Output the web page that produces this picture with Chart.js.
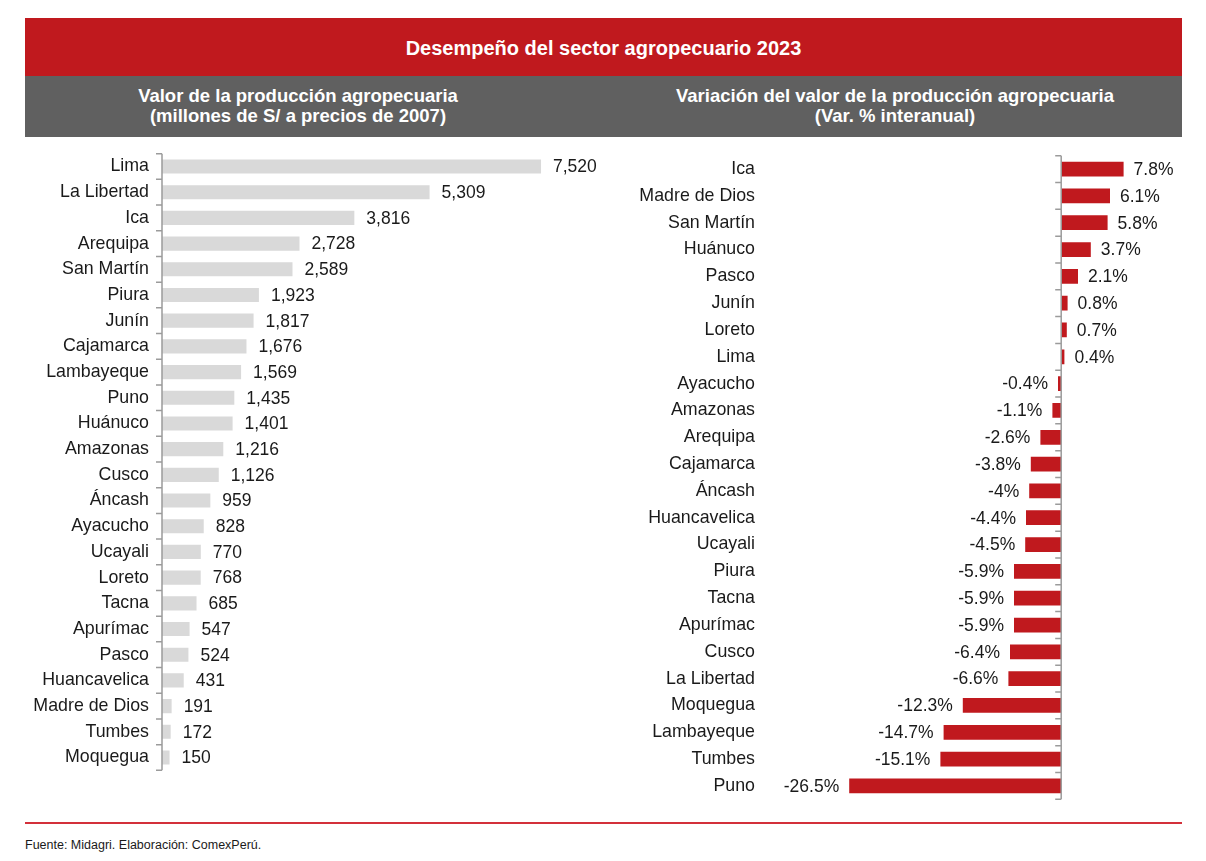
<!DOCTYPE html>
<html>
<head>
<meta charset="utf-8">
<script src="https://cdn.jsdelivr.net/npm/chart.js@4.4.1/dist/chart.umd.min.js"></script>
<style>
  body { margin: 0; background: #fff; font-family: "Liberation Sans", Arial, sans-serif; }
  .page { position: relative; width: 1206px; height: 861px; }
  .title { position: absolute; left: 25px; top: 18px; width: 1157px; height: 58px; background: #c0191e;
           color: #fff; font-weight: bold; font-size: 20px; text-align: center; line-height: 60px; }
  .band { position: absolute; left: 25px; top: 76px; width: 1157px; height: 61px; background: #606060; }
  .sub { position: absolute; top: 86px; color: #fff; font-weight: bold; font-size: 18.5px; line-height: 20px; text-align: center; }
  canvas { position: absolute; }
  .rule { position: absolute; left: 25px; top: 822px; width: 1157px; height: 2px; background: #d3303a; }
  .src { position: absolute; left: 25px; top: 838px; font-size: 12.5px; color: #1a1a1a; }
</style>
</head>
<body>
<div class="page">
  <div class="title">Desempeño del sector agropecuario 2023</div>
  <div class="band"></div>
  <div class="sub" style="left:25px;width:546px;">Valor de la producción agropecuaria<br>(millones de S/ a precios de 2007)</div>
  <div class="sub" style="left:600px;width:590px;">Variación del valor de la producción agropecuaria<br>(Var. % interanual)</div>
  <canvas id="valorChart" width="575" height="664" style="left:25px;top:130px;"></canvas>
  <canvas id="varChart" width="572" height="695" style="left:610px;top:130px;"></canvas>
  <div class="rule"></div>
  <div class="src">Fuente: Midagri. Elaboración: ComexPerú.</div>
</div>
<script>
// Valor de la producción (millones de S/)
const regionsValor = ['Lima', 'La Libertad', 'Ica', 'Arequipa', 'San Martín', 'Piura', 'Junín', 'Cajamarca',
  'Lambayeque', 'Puno', 'Huánuco', 'Amazonas', 'Cusco', 'Áncash', 'Ayacucho', 'Ucayali', 'Loreto', 'Tacna',
  'Apurímac', 'Pasco', 'Huancavelica', 'Madre de Dios', 'Tumbes', 'Moquegua'];
const valor = [7520, 5309, 3816, 2728, 2589, 1923, 1817, 1676, 1569, 1435, 1401, 1216, 1126, 959, 828, 770,
  768, 685, 547, 524, 431, 191, 172, 150];

// Variación % interanual
const regionsVar = ['Ica', 'Madre de Dios', 'San Martín', 'Huánuco', 'Pasco', 'Junín', 'Loreto', 'Lima',
  'Ayacucho', 'Amazonas', 'Arequipa', 'Cajamarca', 'Áncash', 'Huancavelica', 'Ucayali', 'Piura', 'Tacna',
  'Apurímac', 'Cusco', 'La Libertad', 'Moquegua', 'Lambayeque', 'Tumbes', 'Puno'];
const variacion = [7.8, 6.1, 5.8, 3.7, 2.1, 0.8, 0.7, 0.4, -0.4, -1.1, -2.6, -3.8, -4, -4.4, -4.5, -5.9,
  -5.9, -5.9, -6.4, -6.6, -12.3, -14.7, -15.1, -26.5];

const FONT = '"Liberation Sans", Arial, sans-serif';

// vertical axis line at zero with small tick marks between categories
const zeroAxis = {
  id: 'zeroAxis',
  afterDatasetsDraw(chart) {
    const { ctx, chartArea, scales } = chart;
    const x0 = scales.x.getPixelForValue(0);
    const n = chart.data.labels.length;
    const step = (chartArea.bottom - chartArea.top) / n;
    ctx.save();
    ctx.strokeStyle = '#9b9b9b';
    ctx.lineWidth = 1.5;
    ctx.beginPath();
    ctx.moveTo(x0, chartArea.top);
    ctx.lineTo(x0, chartArea.bottom);
    for (let i = 0; i <= n; i++) {
      const y = chartArea.top + i * step;
      ctx.moveTo(x0 - 6, y);
      ctx.lineTo(x0, y);
    }
    ctx.stroke();
    ctx.restore();
  }
};

function makeLabels(format, gap) {
  return {
    id: 'valueLabels',
    afterDatasetsDraw(chart) {
      const ctx = chart.ctx;
      const data = chart.data.datasets[0].data;
      ctx.save();
      ctx.font = '17.5px ' + FONT;
      ctx.fillStyle = '#1a1a1a';
      ctx.textBaseline = 'middle';
      chart.getDatasetMeta(0).data.forEach((bar, i) => {
        const v = data[i];
        if (v >= 0) {
          ctx.textAlign = 'left';
          ctx.fillText(format(v), bar.x + gap, bar.y + 1);
        } else {
          ctx.textAlign = 'right';
          ctx.fillText(format(v), bar.x - gap, bar.y + 1);
        }
      });
      ctx.restore();
    }
  };
}

function barOptions(yWidth, labelPad, xMin, xMax, padTop, padBottom) {
  return {
    indexAxis: 'y',
    responsive: false,
    animation: false,
    layout: { padding: { top: padTop, bottom: padBottom, left: 0, right: 0 } },
    plugins: { legend: { display: false }, tooltip: { enabled: false } },
    scales: {
      x: { display: false, min: xMin, max: xMax },
      y: {
        grid: { display: false, drawTicks: false },
        border: { display: false },
        ticks: { color: '#1a1a1a', padding: labelPad, font: { family: FONT, size: 17.8 } },
        afterFit: function(scale) { scale.width = yWidth; }
      }
    }
  };
}

new Chart(document.getElementById('valorChart'), {
  type: 'bar',
  data: {
    labels: regionsValor,
    datasets: [{
      data: valor,
      backgroundColor: '#d9d9d9',
      barPercentage: 0.55,
      categoryPercentage: 1
    }]
  },
  options: barOptions(137, 13, 0, 8690, 3, 3),
  plugins: [zeroAxis, makeLabels(v => v.toLocaleString('en-US'), 12)]
});

new Chart(document.getElementById('varChart'), {
  type: 'bar',
  data: {
    labels: regionsVar,
    datasets: [{
      data: variacion,
      backgroundColor: '#c0191e',
      barPercentage: 0.55,
      categoryPercentage: 1
    }]
  },
  options: barOptions(160, 15, -36.4, 15.1, 3, 3),
  plugins: [zeroAxis, makeLabels(v => v + '%', 10)]
});
</script>
</body>
</html>
